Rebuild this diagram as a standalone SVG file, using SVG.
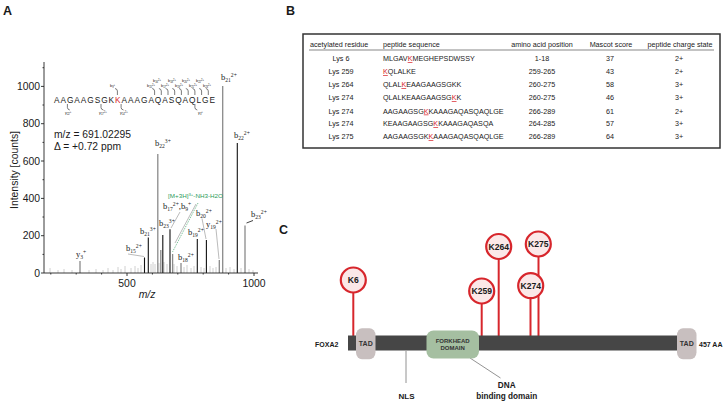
<svg xmlns="http://www.w3.org/2000/svg" width="727" height="403" viewBox="0 0 727 403">
<style>
text{font-family:"Liberation Sans",Arial,sans-serif;fill:#1a1a1a}
.panel{font-size:12.5px;font-weight:bold}
.ax{font-size:10.4px}
.ion{font-family:"Liberation Serif","Times New Roman",serif;font-size:8.5px;fill:#222}
.ion .s{font-size:5.6px;fill:#222}
.tiny{font-family:"Liberation Serif",serif;font-size:3.8px;fill:#333}
.seq{font-size:8.3px}
.hook{fill:none;stroke:#222;stroke-width:0.6}
.pk{stroke:#111;stroke-width:1.1}
.pg{stroke:#8a8a8a;stroke-width:1.3}
.nz{stroke:#c4c4c4;stroke-width:0.8}
.ld{stroke:#777;stroke-width:0.5;fill:none}
.tb{font-size:7.2px}
.red{fill:#d8232a;text-decoration:underline}
.kc{fill:#fbe8e8;stroke:#d7262c;stroke-width:2.2}
.ks{stroke:#d7262c;stroke-width:2}
.kt{font-size:8.6px;font-weight:bold;text-anchor:middle}
.bd{font-weight:bold}
</style>

<!-- Panel labels -->
<text class="panel" x="3" y="15">A</text>
<text class="panel" x="286" y="15">B</text>
<text class="panel" x="279" y="234">C</text>

<!-- ===== Panel A: spectrum ===== -->
<g id="spectrum">
  <!-- noise -->
  <g class="nz">
    <line x1="50" y1="273" x2="50" y2="268"/>
    <line x1="58" y1="273" x2="58" y2="270"/>
    <line x1="64" y1="273" x2="64" y2="269"/>
    <line x1="72" y1="273" x2="72" y2="270"/>
    <line x1="89" y1="273" x2="89" y2="270"/>
    <line x1="96" y1="273" x2="96" y2="269"/>
    <line x1="103" y1="273" x2="103" y2="270"/>
    <line x1="108" y1="273" x2="108" y2="268"/>
    <line x1="113" y1="273" x2="113" y2="270"/>
    <line x1="118" y1="273" x2="118" y2="267"/>
    <line x1="121" y1="273" x2="121" y2="269"/>
    <line x1="125" y1="273" x2="125" y2="266"/>
    <line x1="131" y1="273" x2="131" y2="268"/>
    <line x1="135" y1="273" x2="135" y2="266"/>
    <line x1="138" y1="273" x2="138" y2="268"/>
    <line x1="141" y1="273" x2="141" y2="265"/>
    <line x1="151" y1="273" x2="151" y2="264"/>
    <line x1="153" y1="273" x2="153" y2="262"/>
    <line x1="155" y1="273" x2="155" y2="264"/>
    <line x1="159" y1="273" x2="159" y2="263"/>
    <line x1="164" y1="273" x2="164" y2="262"/>
    <line x1="167" y1="273" x2="167" y2="264"/>
    <line x1="174" y1="273" x2="174" y2="264"/>
    <line x1="177" y1="273" x2="177" y2="266"/>
    <line x1="184" y1="273" x2="184" y2="267"/>
    <line x1="187" y1="273" x2="187" y2="265"/>
    <line x1="191" y1="273" x2="191" y2="268"/>
    <line x1="194" y1="273" x2="194" y2="266"/>
    <line x1="201" y1="273" x2="201" y2="267"/>
    <line x1="204" y1="273" x2="204" y2="268"/>
    <line x1="210" y1="273" x2="210" y2="266"/>
    <line x1="213" y1="273" x2="213" y2="268"/>
    <line x1="216" y1="273" x2="216" y2="267"/>
    <line x1="226" y1="273" x2="226" y2="268"/>
    <line x1="230" y1="273" x2="230" y2="267"/>
    <line x1="234" y1="273" x2="234" y2="269"/>
    <line x1="241" y1="273" x2="241" y2="268"/>
    <line x1="249" y1="273" x2="249" y2="269"/>
    <line x1="253" y1="273" x2="253" y2="270"/>
  </g>
  <!-- peaks -->
  <line class="pg" x1="80" y1="273" x2="80" y2="261"/>
  <line class="pk" x1="144.5" y1="273" x2="144.5" y2="257.5"/>
  <line class="pk" x1="148.3" y1="273" x2="148.3" y2="237.5"/>
  <line class="pg" x1="157.8" y1="273" x2="157.8" y2="154"/>
  <line class="pg" x1="160.8" y1="273" x2="160.8" y2="250"/>
  <line class="pk" x1="162.8" y1="273" x2="162.8" y2="235"/>
  <line class="pk" x1="170" y1="273" x2="170" y2="229.3"/>
  <line class="pg" x1="172.6" y1="273" x2="172.6" y2="254"/>
  <line class="pg" x1="181" y1="273" x2="181" y2="263"/>
  <line class="pk" x1="197.3" y1="273" x2="197.3" y2="239"/>
  <line class="pk" x1="206.4" y1="273" x2="206.4" y2="240"/>
  <line class="pg" x1="219.3" y1="273" x2="219.3" y2="260"/>
  <line class="pg" x1="222.7" y1="273" x2="222.7" y2="86"/>
  <line class="pk" x1="237.3" y1="273" x2="237.3" y2="143"/>
  <line class="pg" x1="245" y1="273" x2="245" y2="225.5"/>

  <!-- axes -->
  <g stroke="#222" stroke-width="0.9" fill="none">
    <path d="M44,62 V273 H258"/>
    <path d="M41,273 H44 M41,235.7 H44 M41,198.4 H44 M41,161 H44 M41,123.7 H44 M41,86.4 H44"/>
    <path d="M42.5,254.4 H44 M42.5,217 H44 M42.5,179.7 H44 M42.5,142.4 H44 M42.5,105 H44 M42.5,67.7 H44"/>
    <path d="M127,273 V276 M254,273 V276"/>
    <path d="M50.8,273 V274.5 M76.2,273 V274.5 M101.6,273 V274.5 M152.4,273 V274.5 M177.8,273 V274.5 M203.2,273 V274.5 M228.6,273 V274.5"/>
  </g>
  <g class="ax" text-anchor="end">
    <text x="40" y="276.5">0</text>
    <text x="40" y="239.2">200</text>
    <text x="40" y="201.9">400</text>
    <text x="40" y="164.5">600</text>
    <text x="40" y="127.2">800</text>
    <text x="40" y="89.9">1000</text>
  </g>
  <g class="ax" text-anchor="middle">
    <text x="127" y="287">500</text>
    <text x="254" y="287">1000</text>
    <text x="147" y="298" font-style="italic">m/z</text>
  </g>
  <text class="ax" text-anchor="middle" transform="translate(17.5,170) rotate(-90)">Intensity [counts]</text>

  <text x="54" y="138" font-size="10.3">m/z = 691.02295</text>
  <text x="54" y="149.5" font-size="10.3">Δ = +0.72 ppm</text>

  <!-- peptide sequence with fragmentation -->
  <text class="seq" x="54" y="102.8" textLength="161" lengthAdjust="spacing">AAGAAGSGK<tspan fill="#d8232a">K</tspan>AAAGAQASQAQLGE</text>
  <g class="hook">
    <path d="M117.4,95 V91 Q117.4,89 115,88.5"/>
    <path d="M154.6,95 V91 Q154.6,89 152.2,88.5"/>
    <path d="M161.3,95 V91 Q161.3,89 158.9,88.5"/>
    <path d="M168,95 V91 Q168,89 165.6,88.5"/>
    <path d="M174.7,95 V91 Q174.7,89 172.3,88.5"/>
    <path d="M181.4,95 V91 Q181.4,89 179,88.5"/>
    <path d="M188.2,95 V91 Q188.2,89 185.8,88.5"/>
    <path d="M194.9,95 V91 Q194.9,89 192.5,88.5"/>
    <path d="M201.6,95 V91 Q201.6,89 199.2,88.5"/>
    <path d="M208.3,95 V91 Q208.3,89 205.9,88.5"/>
    <path d="M67.4,104 V107.5 Q67.4,109.5 69.8,110"/>
    <path d="M101,104 V107.5 Q101,109.5 103.4,110"/>
    <path d="M121.1,104 V107.5 Q121.1,109.5 123.5,110"/>
    <path d="M194.9,104 V107.5 Q194.9,109.5 197.3,110"/>
  </g>
  <g class="tiny">
    <text x="110" y="87">b<tspan font-size="2.6px" dy="0.8">9</tspan><tspan font-size="2.6px" dy="-2">+</tspan></text>
    <text x="147" y="87">b<tspan font-size="2.6px" dy="0.8">15</tspan><tspan font-size="2.6px" dy="-2">2+</tspan></text>
    <text x="161" y="87">b<tspan font-size="2.6px" dy="0.8">17</tspan><tspan font-size="2.6px" dy="-2">2+</tspan></text>
    <text x="175" y="87">b<tspan font-size="2.6px" dy="0.8">19</tspan><tspan font-size="2.6px" dy="-2">2+</tspan></text>
    <text x="189" y="87">b<tspan font-size="2.6px" dy="0.8">21</tspan><tspan font-size="2.6px" dy="-2">2+</tspan></text>
    <text x="203" y="87">b<tspan font-size="2.6px" dy="0.8">23</tspan><tspan font-size="2.6px" dy="-2">2+</tspan></text>
    <text x="153" y="82">b<tspan font-size="2.6px" dy="0.8">16</tspan><tspan font-size="2.6px" dy="-2">2+</tspan></text>
    <text x="168" y="82">b<tspan font-size="2.6px" dy="0.8">18</tspan><tspan font-size="2.6px" dy="-2">2+</tspan></text>
    <text x="182" y="82">b<tspan font-size="2.6px" dy="0.8">20</tspan><tspan font-size="2.6px" dy="-2">2+</tspan></text>
    <text x="196" y="82">b<tspan font-size="2.6px" dy="0.8">22</tspan><tspan font-size="2.6px" dy="-2">2+</tspan></text>
    <text x="65" y="114">y<tspan font-size="2.6px" dy="0.8">22</tspan><tspan font-size="2.6px" dy="-2">+</tspan></text>
    <text x="99" y="114">y<tspan font-size="2.6px" dy="0.8">17</tspan><tspan font-size="2.6px" dy="-2">2+</tspan></text>
    <text x="120" y="114">y<tspan font-size="2.6px" dy="0.8">14</tspan><tspan font-size="2.6px" dy="-2">2+</tspan></text>
    <text x="198" y="114">y<tspan font-size="2.6px" dy="0.8">3</tspan><tspan font-size="2.6px" dy="-2">+</tspan></text>
  </g>

  <!-- leaders -->
  <g class="ld">
    <line x1="128" y1="254" x2="144" y2="256.5"/>
    <line x1="196" y1="204" x2="175" y2="243"/>
    <line x1="180" y1="212" x2="171" y2="228"/>
    <line x1="202" y1="218.5" x2="206" y2="239"/>
    <line x1="216" y1="229" x2="219" y2="259"/>
  </g>
  <line x1="198" y1="203" x2="172.5" y2="252" stroke="#2a9a5a" stroke-width="0.7" stroke-dasharray="1,1"/>
  <line x1="246.5" y1="223" x2="253" y2="220.5" stroke="#111" stroke-width="0.8"/>

  <!-- ion labels -->
  <text class="ion" x="221" y="80">b<tspan class="s" dy="2">21</tspan><tspan class="s" dy="-5.5">2+</tspan></text>
  <text class="ion" x="234" y="138">b<tspan class="s" dy="2">22</tspan><tspan class="s" dy="-5.5">2+</tspan></text>
  <text class="ion" x="155" y="146">b<tspan class="s" dy="2">22</tspan><tspan class="s" dy="-5.5">3+</tspan></text>
  <text x="168" y="198" font-size="5.6" style="fill:#2a9a5a" textLength="55" lengthAdjust="spacingAndGlyphs">[M+3H]<tspan font-size="3.8" dy="-2">3+</tspan><tspan dy="2">-NH3-H2O</tspan></text>
  <text class="ion" x="163" y="209">b<tspan class="s" dy="2">17</tspan><tspan class="s" dy="-5.5">2+</tspan><tspan dy="3.5">,b</tspan><tspan class="s" dy="2">9</tspan><tspan class="s" dy="-5.5">+</tspan></text>
  <text class="ion" x="196" y="216">b<tspan class="s" dy="2">20</tspan><tspan class="s" dy="-5.5">2+</tspan></text>
  <text class="ion" x="159" y="226">b<tspan class="s" dy="2">23</tspan><tspan class="s" dy="-5.5">3+</tspan></text>
  <text class="ion" x="206" y="227">y<tspan class="s" dy="2">19</tspan><tspan class="s" dy="-5.5">2+</tspan></text>
  <text class="ion" x="140" y="234">b<tspan class="s" dy="2">21</tspan><tspan class="s" dy="-5.5">3+</tspan></text>
  <text class="ion" x="188" y="235">b<tspan class="s" dy="2">19</tspan><tspan class="s" dy="-5.5">2+</tspan></text>
  <text class="ion" x="126" y="251">b<tspan class="s" dy="2">15</tspan><tspan class="s" dy="-5.5">2+</tspan></text>
  <text class="ion" x="76" y="257">y<tspan class="s" dy="2">3</tspan><tspan class="s" dy="-5.5">+</tspan></text>
  <text class="ion" x="178" y="260">b<tspan class="s" dy="2">18</tspan><tspan class="s" dy="-5.5">2+</tspan></text>
  <text class="ion" x="251" y="217">b<tspan class="s" dy="2">23</tspan><tspan class="s" dy="-5.5">2+</tspan></text>
</g>

<!-- ===== Panel B: table ===== -->
<g id="table">
  <rect x="303" y="34" width="417" height="114" fill="#fff" stroke="#333" stroke-width="1.5"/>
  <line x1="309" y1="50" x2="714" y2="50" stroke="#555" stroke-width="0.7"/>
  <g class="tb">
    <text x="310" y="46.5">acetylated residue</text>
    <text x="383" y="46.5">peptide sequence</text>
    <text x="542" y="46.5" text-anchor="middle">amino acid position</text>
    <text x="611" y="46.5" text-anchor="middle">Mascot score</text>
    <text x="680" y="46.5" text-anchor="middle">peptide charge state</text>
  </g>
  <g class="tb" text-anchor="middle">
    <text x="341" y="61">Lys 6</text>
    <text x="341" y="74">Lys 259</text>
    <text x="341" y="87">Lys 264</text>
    <text x="341" y="100">Lys 274</text>
    <text x="341" y="113.5">Lys 274</text>
    <text x="341" y="126">Lys 274</text>
    <text x="341" y="139">Lys 275</text>
    <text x="542" y="61">1-18</text>
    <text x="542" y="74">259-265</text>
    <text x="542" y="87">260-275</text>
    <text x="542" y="100">260-275</text>
    <text x="542" y="113.5">266-289</text>
    <text x="542" y="126">264-285</text>
    <text x="542" y="139">266-289</text>
    <text x="610" y="61">37</text>
    <text x="610" y="74">43</text>
    <text x="610" y="87">58</text>
    <text x="610" y="100">46</text>
    <text x="610" y="113.5">61</text>
    <text x="610" y="126">57</text>
    <text x="610" y="139">64</text>
    <text x="679" y="61">2+</text>
    <text x="679" y="74">2+</text>
    <text x="679" y="87">3+</text>
    <text x="679" y="100">3+</text>
    <text x="679" y="113.5">2+</text>
    <text x="679" y="126">3+</text>
    <text x="679" y="139">3+</text>
  </g>
  <g class="tb">
    <text x="383" y="61">MLGAV<tspan class="red">K</tspan>MEGHEPSDWSSY</text>
    <text x="383" y="74"><tspan class="red">K</tspan>QLALKE</text>
    <text x="383" y="87">QLAL<tspan class="red">K</tspan>EAAGAAGSGKK</text>
    <text x="383" y="100">QLALKEAAGAAGSG<tspan class="red">K</tspan>K</text>
    <text x="383" y="113.5">AAGAAGSG<tspan class="red">K</tspan>KAAAGAQASQAQLGE</text>
    <text x="383" y="126">KEAAGAAGSG<tspan class="red">K</tspan>KAAAGAQASQA</text>
    <text x="383" y="139">AAGAAGSGK<tspan class="red">K</tspan>AAAGAQASQAQLGE</text>
  </g>
</g>

<!-- ===== Panel C: FOXA2 domain map ===== -->
<g id="connectors">
  <line class="ks" x1="353.3" y1="292" x2="353.3" y2="336"/>
  <line class="ks" x1="481.7" y1="303" x2="481.7" y2="336"/>
  <line class="ks" x1="498.7" y1="259" x2="498.7" y2="336"/>
  <line class="ks" x1="530.5" y1="298" x2="530.5" y2="336"/>
  <line class="ks" x1="538.5" y1="256" x2="538.5" y2="336"/>
  <line x1="406" y1="351" x2="406" y2="383" stroke="#777" stroke-width="0.8"/>
  <line x1="470" y1="358" x2="500.5" y2="378" stroke="#777" stroke-width="0.8"/>
</g>
<g id="protein-bar">
  <rect x="348" y="335.5" width="339" height="15" fill="#464646"/>
</g>
<g id="tad-left">
  <rect x="356" y="328.3" width="19.5" height="31" rx="6" ry="7" fill="#c8bfbf"/>
  <text x="365.8" y="346" font-size="7" text-anchor="middle" class="bd" style="fill:#333">TAD</text>
</g>
<g id="tad-right">
  <rect x="677" y="328.3" width="19.5" height="31" rx="6" ry="7" fill="#c8bfbf"/>
  <text x="686.8" y="346" font-size="7" text-anchor="middle" class="bd" style="fill:#333">TAD</text>
</g>
<g id="forkhead">
  <rect x="426.5" y="330.5" width="52.5" height="28" rx="7" fill="#a5bfa1"/>
  <text x="452.7" y="342.5" font-size="6" text-anchor="middle" class="bd" style="fill:#333">FORKHEAD</text>
  <text x="452.7" y="350" font-size="6" text-anchor="middle" class="bd" style="fill:#333">DOMAIN</text>
</g>
<g id="k6"><circle class="kc" cx="353.3" cy="280" r="12.5"/><text class="kt" x="353.3" y="283">K6</text></g>
<g id="k259"><circle class="kc" cx="481.7" cy="291" r="12.5"/><text class="kt" x="481.7" y="294">K259</text></g>
<g id="k264"><circle class="kc" cx="498.7" cy="246.5" r="12.5"/><text class="kt" x="498.7" y="249.5">K264</text></g>
<g id="k274"><circle class="kc" cx="530.7" cy="285.7" r="12.5"/><text class="kt" x="530.7" y="288.7">K274</text></g>
<g id="k275"><circle class="kc" cx="538.3" cy="244" r="12.5"/><text class="kt" x="538.3" y="247">K275</text></g>
<g id="labels-c" class="bd">
  <text x="315" y="346.5" font-size="7">FOXA2</text>
  <text x="699" y="346.5" font-size="7">457 AA</text>
  <text x="406.5" y="398.5" font-size="8" text-anchor="middle">NLS</text>
  <text x="506.7" y="388" font-size="8.2" text-anchor="middle">DNA</text>
  <text x="506.7" y="398.5" font-size="8.2" text-anchor="middle">binding domain</text>
</g>
</svg>
